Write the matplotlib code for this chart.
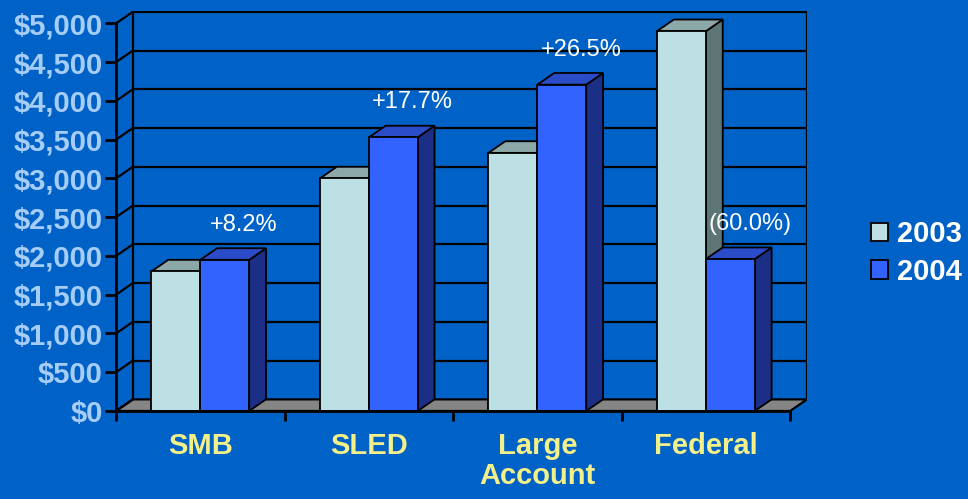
import matplotlib.pyplot as plt
from matplotlib.patches import Polygon, Patch

categories = ["SMB", "SLED", "Large\nAccount", "Federal"]
years = ["2003", "2004"]
sales_2003 = [1800, 3000, 3330, 4900]
sales_2004 = [1950, 3530, 4210, 1960]
growth_labels = ["+8.2%", "+17.7%", "+26.5%", "(60.0%)"]
y_ticks = [0, 500, 1000, 1500, 2000, 2500, 3000, 3500, 4000, 4500, 5000]

BG = "#0062C6"
FACE = {"2003": ("#BCE0E3", "#8DA8A8", "#5E7575"),
        "2004": ("#3363FF", "#2A4CC8", "#1C2F86")}
TICK_BLUE = "#A6CDF5"
YELLOW = "#F3F08A"

plt.rcParams["font.family"] = ["Liberation Sans", "DejaVu Sans"]

fig = plt.figure(figsize=(9.68, 4.99), dpi=100, facecolor=BG)
ax = fig.add_axes([116 / 968, 88 / 499, 691 / 968, 400 / 499])
ax.set_facecolor(BG)

n = len(categories)
dx, dy = 0.1, 150          # depth offset (category units, dollars)
ymax = y_ticks[-1]
ax.set_xlim(0, n + dx)
ax.set_ylim(0, ymax + dy + 10)

# walls and floor
lw = 1.6
floor = Polygon([(0, 0), (n, 0), (n + dx, dy), (dx, dy)], closed=True,
                facecolor="#858585", edgecolor="black", lw=lw, zorder=1)
ax.add_patch(floor)
for v in y_ticks:
    ax.plot([0, dx], [v, v + dy], color="black", lw=lw, zorder=1)
    if v > 0:
        ax.plot([dx, n + dx], [v + dy, v + dy], color="black", lw=lw, zorder=1)
ax.plot([dx, dx], [dy, ymax + dy], color="black", lw=lw, zorder=1)
ax.plot([n + dx, n + dx], [dy, ymax + dy], color="black", lw=lw, zorder=1)


def draw_bar(x0, x1, h, colors, z):
    front, top, side = colors
    ax.add_patch(Polygon([(x1, 0), (x1 + dx, dy), (x1 + dx, h + dy), (x1, h)],
                         facecolor=side, edgecolor="black", lw=1.3, zorder=z))
    ax.add_patch(Polygon([(x0, h), (x1, h), (x1 + dx, h + dy), (x0 + dx, h + dy)],
                         facecolor=top, edgecolor="black", lw=1.3, zorder=z))
    ax.bar(x0, h, width=x1 - x0, align="edge", color=front, edgecolor="black",
           lw=1.3, zorder=z)


bw = 0.29
for i in range(n):
    draw_bar(i + 0.5 - bw, i + 0.5, sales_2003[i], FACE["2003"], 2 + 2 * i)
    draw_bar(i + 0.5, i + 0.5 + bw, sales_2004[i], FACE["2004"], 3 + 2 * i)
    ax.text(i + 0.76, sales_2004[i] + 450, growth_labels[i], color="white",
            fontsize=17, ha="center", va="center", zorder=20)

# axes
for side in ["top", "right"]:
    ax.spines[side].set_visible(False)
ax.spines["left"].set_bounds(0, ymax)
ax.spines["bottom"].set_bounds(0, n)
ax.spines["left"].set_linewidth(2)
ax.spines["bottom"].set_linewidth(2)
ax.spines["left"].set_zorder(15)
ax.spines["bottom"].set_zorder(15)

ax.set_yticks(y_ticks)
ax.set_yticklabels([f"${v:,}" for v in y_ticks])
ax.tick_params(axis="y", length=8, width=2, pad=1.5, labelsize=21,
               labelcolor=TICK_BLUE)
for lab in ax.get_yticklabels():
    lab.set_fontweight("bold")

ax.set_xticks(range(n + 1))
ax.set_xticklabels([])
ax.tick_params(axis="x", which="major", length=7, width=2)
ax.set_xticks([i + 0.5 for i in range(n)], minor=True)
ax.set_xticklabels(categories, minor=True, fontsize=21, fontweight="bold",
                   color=YELLOW, linespacing=1.12)
ax.tick_params(axis="x", which="minor", length=0, pad=15)

handles = [Patch(facecolor=FACE[y][0], edgecolor="black", lw=1.3, label=y)
           for y in years]
leg = fig.legend(handles=handles, loc="center left",
                 bbox_to_anchor=(859 / 968, 246 / 499), frameon=False,
                 handlelength=0.6, handleheight=0.6, handletextpad=0.3,
                 labelspacing=0.32, borderaxespad=0,
                 prop={"size": 21, "weight": "bold"})
for t in leg.get_texts():
    t.set_color("white")

fig.savefig("out.png", dpi=100, facecolor=BG)
